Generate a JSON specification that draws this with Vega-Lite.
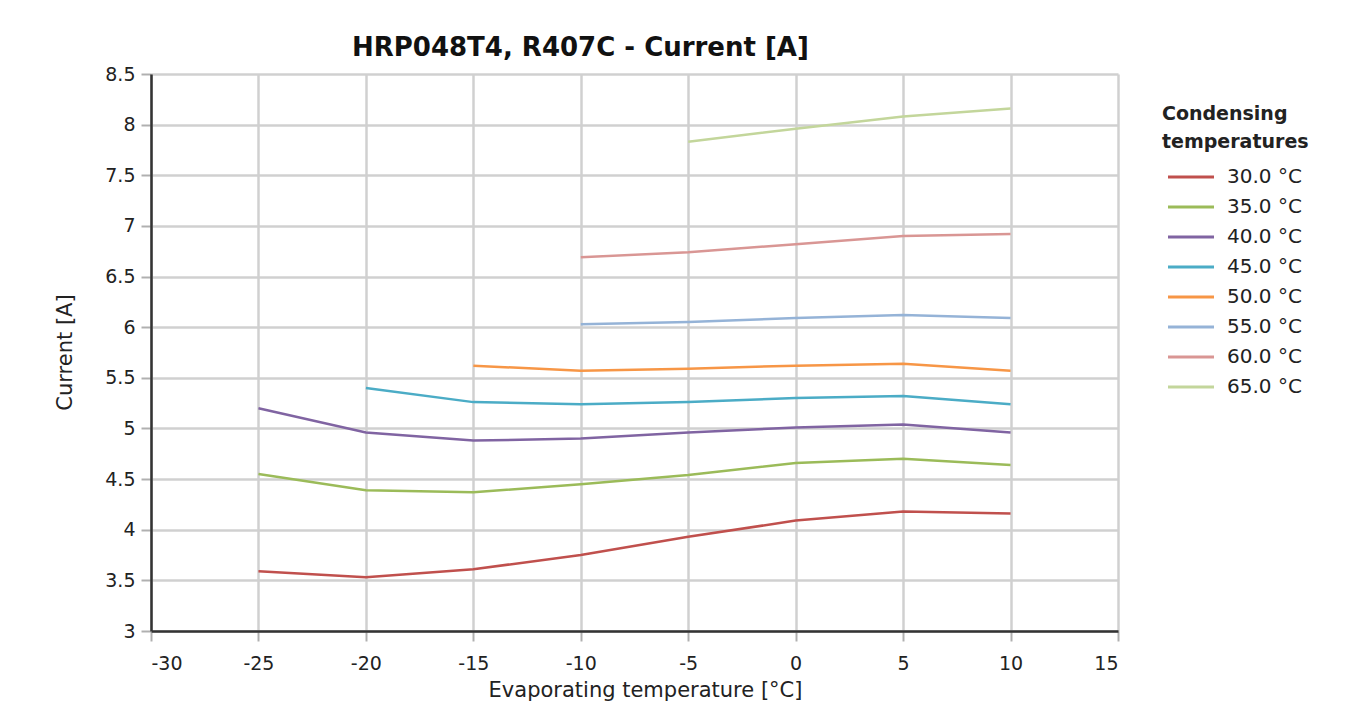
{
  "$schema": "https://vega.github.io/schema/vega-lite/v6.json",
  "autosize": {"type": "none"},
  "padding": {"left": 151, "top": 74, "right": 247, "bottom": 96},
  "width": 967,
  "height": 557,
  "background": "white",
  "title": {
    "text": "HRP048T4, R407C - Current [A]",
    "anchor": "start",
    "frame": "group",
    "dx": 201,
    "offset": 4,
    "font": "DejaVu Sans",
    "fontSize": 26,
    "fontWeight": "bold",
    "color": "#111"
  },
  "config": {
    "view": {"stroke": null},
    "axis": {
      "labelFont": "DejaVu Sans",
      "labelFontSize": 19,
      "labelColor": "#222",
      "titleFont": "DejaVu Sans",
      "titleFontSize": 21,
      "titleFontWeight": "normal",
      "titleColor": "#222",
      "gridColor": "#d0d0d0",
      "gridWidth": 2.5,
      "domainColor": "#333",
      "domainWidth": 2.5,
      "tickColor": "#b0b0b0",
      "tickWidth": 2,
      "tickSize": 10,
      "labelExpr": "'' + datum.value"
    },
    "legend": {
      "labelFont": "DejaVu Sans",
      "labelFontSize": 20,
      "labelColor": "#222",
      "titleFont": "DejaVu Sans",
      "titleFontSize": 19,
      "titleFontWeight": "bold",
      "titleColor": "#222"
    }
  },
  "data": {
    "values": [
      {"evap": -25, "current": 3.59, "cond": "30.0 °C"},
      {"evap": -20, "current": 3.53, "cond": "30.0 °C"},
      {"evap": -15, "current": 3.61, "cond": "30.0 °C"},
      {"evap": -10, "current": 3.75, "cond": "30.0 °C"},
      {"evap": -5, "current": 3.93, "cond": "30.0 °C"},
      {"evap": 0, "current": 4.09, "cond": "30.0 °C"},
      {"evap": 5, "current": 4.18, "cond": "30.0 °C"},
      {"evap": 10, "current": 4.16, "cond": "30.0 °C"},
      {"evap": -25, "current": 4.55, "cond": "35.0 °C"},
      {"evap": -20, "current": 4.39, "cond": "35.0 °C"},
      {"evap": -15, "current": 4.37, "cond": "35.0 °C"},
      {"evap": -10, "current": 4.45, "cond": "35.0 °C"},
      {"evap": -5, "current": 4.54, "cond": "35.0 °C"},
      {"evap": 0, "current": 4.66, "cond": "35.0 °C"},
      {"evap": 5, "current": 4.70, "cond": "35.0 °C"},
      {"evap": 10, "current": 4.64, "cond": "35.0 °C"},
      {"evap": -25, "current": 5.20, "cond": "40.0 °C"},
      {"evap": -20, "current": 4.96, "cond": "40.0 °C"},
      {"evap": -15, "current": 4.88, "cond": "40.0 °C"},
      {"evap": -10, "current": 4.90, "cond": "40.0 °C"},
      {"evap": -5, "current": 4.96, "cond": "40.0 °C"},
      {"evap": 0, "current": 5.01, "cond": "40.0 °C"},
      {"evap": 5, "current": 5.04, "cond": "40.0 °C"},
      {"evap": 10, "current": 4.96, "cond": "40.0 °C"},
      {"evap": -20, "current": 5.40, "cond": "45.0 °C"},
      {"evap": -15, "current": 5.26, "cond": "45.0 °C"},
      {"evap": -10, "current": 5.24, "cond": "45.0 °C"},
      {"evap": -5, "current": 5.26, "cond": "45.0 °C"},
      {"evap": 0, "current": 5.30, "cond": "45.0 °C"},
      {"evap": 5, "current": 5.32, "cond": "45.0 °C"},
      {"evap": 10, "current": 5.24, "cond": "45.0 °C"},
      {"evap": -15, "current": 5.62, "cond": "50.0 °C"},
      {"evap": -10, "current": 5.57, "cond": "50.0 °C"},
      {"evap": -5, "current": 5.59, "cond": "50.0 °C"},
      {"evap": 0, "current": 5.62, "cond": "50.0 °C"},
      {"evap": 5, "current": 5.64, "cond": "50.0 °C"},
      {"evap": 10, "current": 5.57, "cond": "50.0 °C"},
      {"evap": -10, "current": 6.03, "cond": "55.0 °C"},
      {"evap": -5, "current": 6.05, "cond": "55.0 °C"},
      {"evap": 0, "current": 6.09, "cond": "55.0 °C"},
      {"evap": 5, "current": 6.12, "cond": "55.0 °C"},
      {"evap": 10, "current": 6.09, "cond": "55.0 °C"},
      {"evap": -10, "current": 6.69, "cond": "60.0 °C"},
      {"evap": -5, "current": 6.74, "cond": "60.0 °C"},
      {"evap": 0, "current": 6.82, "cond": "60.0 °C"},
      {"evap": 5, "current": 6.90, "cond": "60.0 °C"},
      {"evap": 10, "current": 6.92, "cond": "60.0 °C"},
      {"evap": -5, "current": 7.83, "cond": "65.0 °C"},
      {"evap": 0, "current": 7.96, "cond": "65.0 °C"},
      {"evap": 5, "current": 8.08, "cond": "65.0 °C"},
      {"evap": 10, "current": 8.16, "cond": "65.0 °C"}
    ]
  },
  "mark": {"type": "line", "strokeWidth": 2.5},
  "encoding": {
    "x": {
      "field": "evap",
      "type": "quantitative",
      "scale": {"domain": [-30, 15], "nice": false, "zero": false},
      "axis": {
        "title": "Evaporating temperature [°C]",
        "values": [-30, -25, -20, -15, -10, -5, 0, 5, 10, 15],
        "labelPadding": 13,
        "titleX": 494,
        "titleY": 59,
        "titleBaseline": "middle",
        "titleAnchor": "middle"
      }
    },
    "y": {
      "field": "current",
      "type": "quantitative",
      "scale": {"domain": [3, 8.5], "nice": false, "zero": false},
      "axis": {
        "title": "Current [A]",
        "values": [3, 3.5, 4, 4.5, 5, 5.5, 6, 6.5, 7, 7.5, 8, 8.5],
        "labelPadding": 6,
        "titleX": -86,
        "titleY": 278,
        "titleBaseline": "middle",
        "titleAnchor": "middle"
      }
    },
    "color": {
      "field": "cond",
      "type": "nominal",
      "scale": {
        "domain": ["30.0 °C", "35.0 °C", "40.0 °C", "45.0 °C", "50.0 °C", "55.0 °C", "60.0 °C", "65.0 °C"],
        "range": ["#c0504d", "#9bbb59", "#8064a2", "#4bacc6", "#f79646", "#95b3d7", "#d99694", "#c3d69b"]
      },
      "legend": {
        "title": ["Condensing", "temperatures"],
        "orient": "none",
        "legendX": 1011,
        "legendY": 31,
        "titleLineHeight": 28,
        "titlePadding": 15,
        "symbolType": "M-0.5,0H5.25",
        "symbolSize": 256,
        "symbolStrokeWidth": 3,
        "labelOffset": 45,
        "rowPadding": 10
      }
    }
  }
}
